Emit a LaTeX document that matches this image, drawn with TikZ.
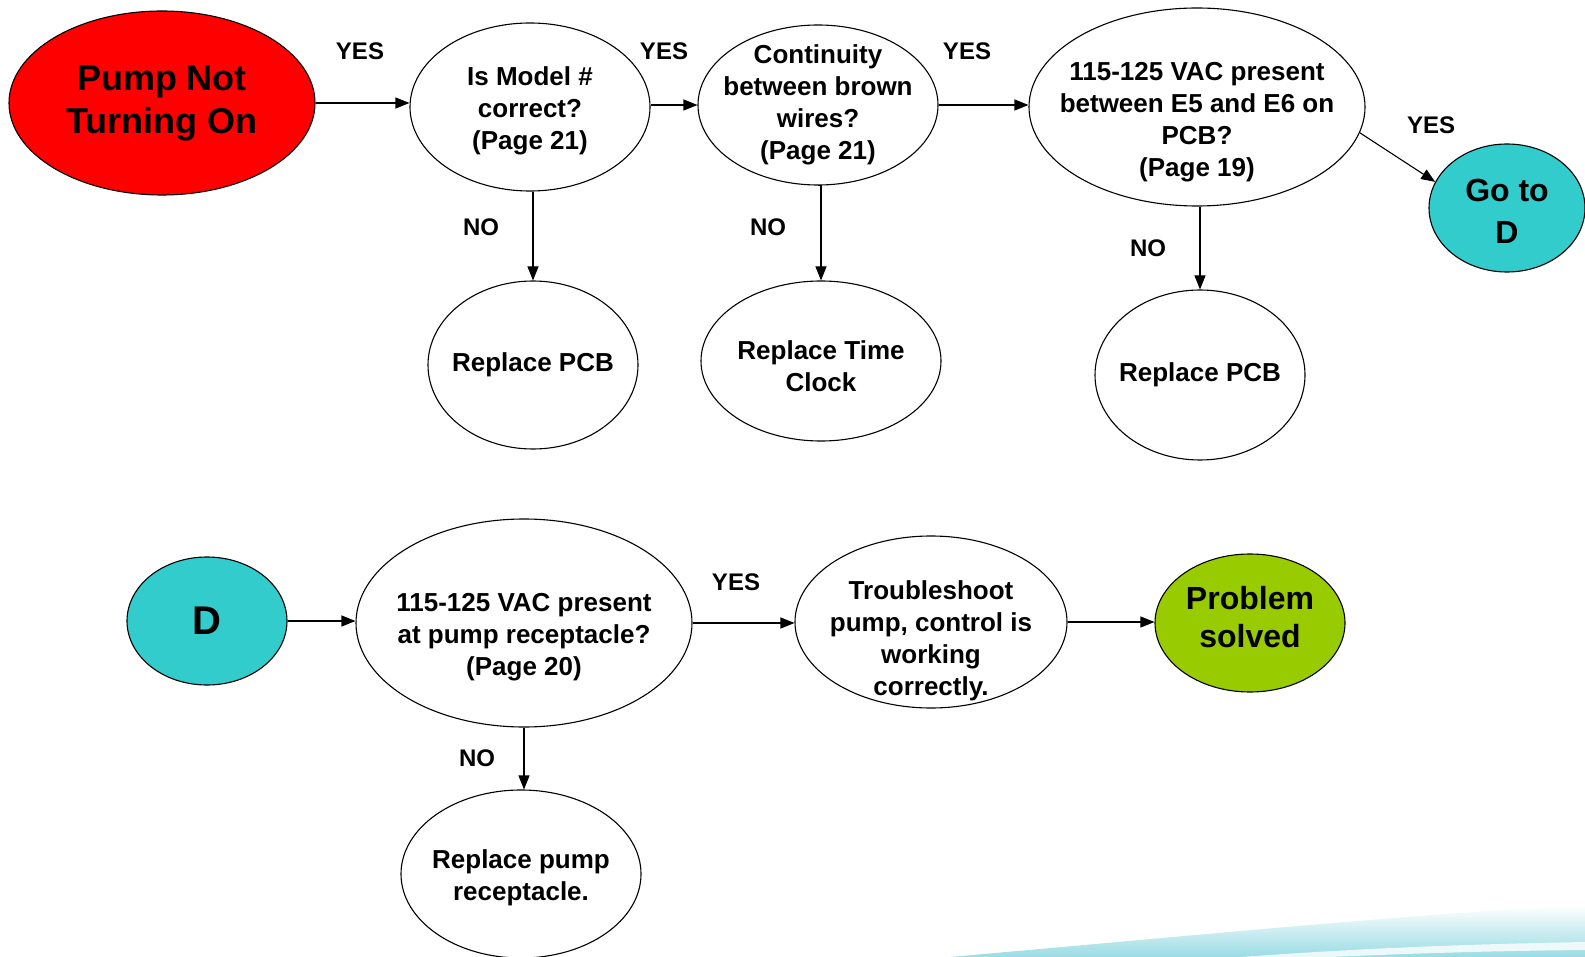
\documentclass[tikz,border=0pt]{standalone}
\usepackage{fontspec}
\setmainfont{Liberation Sans}
\usetikzlibrary{arrows.meta,shapes.geometric}

\definecolor{pumpred}{HTML}{FF0000}
\definecolor{gototeal}{HTML}{33CCCC}
\definecolor{donegreen}{HTML}{99CC00}
\definecolor{swoosh}{HTML}{9ADCE4}

\begin{document}
\begin{tikzpicture}[
    x=1pt, y=-1pt,
    enode/.style={
        ellipse, draw=black, line width=1.1pt, fill=white,
        inner sep=-45pt, align=center,
        font=\fontsize{26}{32}\selectfont\bfseries
    },
    bignode/.style={
        enode, font=\fontsize{36}{43}\selectfont\bfseries
    },
    arr/.style={line width=1.1pt, -{Triangle[length=14pt,width=11pt]}},
    lbl/.style={font=\fontsize{24}{28}\selectfont\bfseries},
]
\useasboundingbox (0,0) rectangle (1585,957);

% background swoosh
\shade[top color=white, bottom color=swoosh, draw=none]
    (950,957) .. controls (1200,935) and (1400,915) .. (1585,905)
    -- (1585,957) -- cycle;
\fill[white, opacity=0.8]
    (1240,957) .. controls (1380,947) and (1480,944) .. (1585,942)
    -- (1585,950) .. controls (1480,951) and (1400,954) .. (1330,957) -- cycle;

% top row
\node [bignode, fill=pumpred, minimum width=306pt, minimum height=184pt] (pump) at (162,103) {Pump Not\\Turning On};
\node [enode, minimum width=240pt, minimum height=168pt] (model) at (530,107) {\rule{0pt}{27pt}Is Model \#\\correct?\\(Page 21)};
\node [enode, minimum width=240pt, minimum height=160pt] (brown) at (818,105) {Continuity\\between brown\\wires?\\(Page 21)};
\node [enode, minimum width=336pt, minimum height=198pt] (vacpcb) at (1197,107) {\rule{0pt}{49pt}115-125 VAC present\\between E5 and E6 on\\PCB?\\(Page 19)};
\node [bignode, fill=gototeal, font=\fontsize{32}{42}\selectfont\bfseries, minimum width=156pt, minimum height=128pt] (gotod) at (1507,208) {\rule{0pt}{29pt}Go to\\D};

\node [enode, minimum width=210pt, minimum height=168pt] (pcbA) at (533,365) {Replace PCB};
\node [enode, minimum width=240pt, minimum height=160pt] (clock) at (821,361) {\rule{0pt}{29pt}Replace Time\\Clock};
\node [enode, minimum width=210pt, minimum height=170pt] (pcbB) at (1200,375) {Replace PCB};

% bottom row
\node [bignode, fill=gototeal, font=\fontsize{40}{48}\selectfont\bfseries, minimum width=160pt, minimum height=128pt] (d) at (207,621) {D};
\node [enode, minimum width=336pt, minimum height=208pt] (vacpump) at (524,623) {\rule{0pt}{47pt}115-125 VAC present\\at pump receptacle?\\(Page 20)};
\node [enode, minimum width=272pt, minimum height=172pt] (trouble) at (931,622) {\rule{0pt}{57pt}Troubleshoot\\pump, control is\\working\\correctly.};
\node [bignode, fill=donegreen, font=\fontsize{32}{38}\selectfont\bfseries, minimum width=190pt, minimum height=138pt] (solved) at (1250,623) {Problem\\solved\rule[-12pt]{0pt}{12pt}};
\node [enode, minimum width=240pt, minimum height=168pt] (recept) at (521,874) {\rule{0pt}{27pt}Replace pump\\receptacle.};

\draw[arr] (pump.east) -- (pump.east -| model.west);
\draw[arr] (model.east |- brown.west) -- (brown.west);
\draw[arr] (brown.east) -- (brown.east -| vacpcb.west);
\draw[arr] (vacpcb.-9) -- (gotod.160);
\draw[arr] (model.south -| pcbA.north) -- (pcbA.north);
\draw[arr] (brown.south) -- (brown.south -| clock.north) -- (clock.north);
\draw[arr] (vacpcb.south -| pcbB.north) -- (pcbB.north);

\draw[arr] (d.east) -- (d.east -| vacpump.west);
\draw[arr] (vacpump.east) -- (vacpump.east -| trouble.west);
\draw[arr] (trouble.east) -- (trouble.east -| solved.west);
\draw[arr] (vacpump.south) -- (vacpump.south |- recept.north);

\node [lbl] (yesA) at (360,51) {YES};
\node [lbl] (yesB) at (664,51) {YES};
\node [lbl] (yesC) at (967,51) {YES};
\node [lbl] (yesD) at (1431,125) {YES};
\node [lbl] (noA) at (481,227) {NO};
\node [lbl] (noB) at (768,227) {NO};
\node [lbl] (noC) at (1148,248) {NO};
\node [lbl] (yesE) at (736,582) {YES};
\node [lbl] (noD) at (477,758) {NO};

\end{tikzpicture}
\end{document}
